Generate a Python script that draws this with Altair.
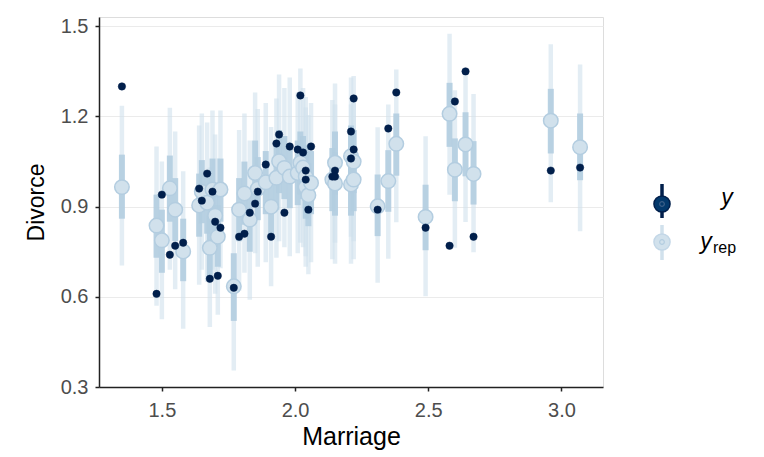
import altair as alt
import pandas as pd

states = ["Maine","New Jersey","Rhode Island","Minnesota","Pennsylvania","Massachusetts",
          "Vermont","Michigan","New Hampshire","New York","Ohio","Florida","Connecticut",
          "Wisconsin","District of Columbia","Illinois","South Carolina","Maryland","Montana",
          "Missouri","Oregon","California","Mississippi","Tennessee","Nebraska","Indiana",
          "South Dakota","Alabama","Arizona","New Mexico","North Carolina","Virginia",
          "Louisiana","Washington","Iowa","Texas","Georgia","Kansas","Kentucky",
          "West Virginia","Delaware","Colorado","Oklahoma","Hawaii","Idaho","Alaska",
          "Arkansas","North Dakota","Utah","Wyoming"]

marriage = [1.35,1.48,1.50,1.53,1.55,1.58,1.64,1.65,1.67,1.68,1.69,1.70,1.71,1.72,1.77,1.79,
            1.81,1.83,1.85,1.86,1.89,1.91,1.93,1.94,1.96,1.98,2.01,2.02,2.03,2.04,2.04,2.05,
            2.06,2.14,2.15,2.15,2.21,2.21,2.22,2.22,2.31,2.35,2.38,2.49,2.58,2.60,2.64,2.67,
            2.96,3.07]

divorce = [1.30,0.61,0.94,0.74,0.77,0.78,0.96,0.92,1.01,0.66,0.95,0.85,0.67,0.83,0.63,0.80,
           0.81,0.88,0.91,0.95,1.04,0.80,1.11,1.14,0.88,1.10,1.09,1.27,1.08,1.02,0.99,0.89,
           1.10,1.00,1.02,1.00,1.15,1.06,1.26,1.09,0.89,1.16,1.28,0.83,0.77,1.25,1.35,0.80,
           1.02,1.03]

yrep_med = [0.965,0.837,0.788,0.961,0.890,0.751,0.904,0.950,0.913,0.763,0.957,0.870,0.800,
            0.957,0.635,0.890,0.944,0.857,1.012,0.960,0.981,0.900,0.996,1.051,1.029,1.000,
            1.012,1.046,1.030,1.000,0.965,0.938,0.979,0.990,1.046,0.977,1.068,0.974,1.050,
            0.990,0.901,0.985,1.109,0.866,1.209,1.023,1.107,1.009,1.186,1.098]

yrep_lo50 = [0.860,0.730,0.680,0.850,0.785,0.652,0.800,0.845,0.810,0.660,0.850,0.765,0.700,
             0.850,0.520,0.785,0.840,0.750,0.905,0.855,0.875,0.795,0.890,0.945,0.925,0.895,
             0.905,0.940,0.925,0.895,0.860,0.835,0.875,0.885,0.940,0.870,0.960,0.870,0.945,
             0.885,0.802,0.883,1.003,0.755,1.099,0.918,1.001,0.907,1.077,0.988]

yrep_hi50 = [1.073,0.940,0.890,1.070,0.995,0.860,1.010,1.055,1.020,0.870,1.060,0.975,0.905,
             1.060,0.745,0.995,1.050,0.960,1.120,1.065,1.085,1.005,1.100,1.155,1.135,1.105,
             1.120,1.150,1.135,1.105,1.070,1.045,1.085,1.095,1.150,1.080,1.170,1.080,1.155,
             1.095,1.007,1.088,1.210,0.973,1.312,1.127,1.214,1.118,1.292,1.210]

yrep_lo90 = [0.704,0.570,0.525,0.690,0.625,0.494,0.640,0.690,0.650,0.500,0.690,0.610,0.540,
             0.695,0.355,0.620,0.680,0.590,0.745,0.700,0.715,0.635,0.730,0.785,0.765,0.735,
             0.745,0.780,0.765,0.735,0.700,0.675,0.715,0.725,0.780,0.710,0.800,0.710,0.785,
             0.725,0.647,0.727,0.848,0.602,0.940,0.763,0.849,0.748,0.915,0.818]

yrep_hi90 = [1.236,1.100,1.050,1.229,1.150,1.018,1.170,1.210,1.180,1.030,1.220,1.140,1.060,
             1.220,0.900,1.155,1.210,1.120,1.280,1.225,1.245,1.165,1.260,1.340,1.295,1.330,
             1.280,1.360,1.295,1.265,1.230,1.205,1.245,1.255,1.310,1.240,1.330,1.240,1.335,
             1.255,1.164,1.240,1.356,1.134,1.475,1.287,1.356,1.275,1.440,1.373]

x_ticks = [1.5, 2.0, 2.5, 3.0]
y_ticks = [0.3, 0.6, 0.9, 1.2, 1.5]

df = pd.DataFrame({
    "state": states, "Marriage": marriage, "Divorce": divorce,
    "med": yrep_med, "lo50": yrep_lo50, "hi50": yrep_hi50,
    "lo90": yrep_lo90, "hi90": yrep_hi90,
})

FONT = "Liberation Sans"
W, H = 504, 370

xscale = alt.Scale(domain=[1.264, 3.156], nice=False, zero=False)
yscale = alt.Scale(domain=[0.3, 1.531], nice=False, zero=False)

xaxis = alt.Axis(values=x_ticks, format=".1f", title="Marriage", grid=False,
                 domainColor="#222222", domainWidth=1.5, tickColor="#222222", tickWidth=1.5,
                 tickSize=4, labelFontSize=20, labelColor="#4d4d4d", labelFont=FONT,
                 labelPadding=9, titleFont=FONT, titleFontSize=25, titleFontWeight="normal",
                 titleColor="#000000", titlePadding=4)
yaxis = alt.Axis(values=y_ticks, format=".1f", title="Divorce", grid=True,
                 gridColor="#ebebeb", gridWidth=1.2,
                 domainColor="#222222", domainWidth=1.5, tickColor="#222222", tickWidth=1.5,
                 tickSize=4, labelFontSize=20, labelColor="#4d4d4d", labelFont=FONT,
                 labelPadding=7, titleFont=FONT, titleFontSize=23, titleFontWeight="normal",
                 titleColor="#000000", titlePadding=12)

base = alt.Chart(df)

outer = base.mark_rule(strokeWidth=4.5, color="#d1e1ec", opacity=0.6).encode(
    x=alt.X("Marriage:Q", scale=xscale, axis=xaxis),
    y=alt.Y("lo90:Q", scale=yscale, axis=yaxis),
    y2="hi90:Q",
)
inner = base.mark_rule(strokeWidth=6, color="#b3cde0", opacity=0.9).encode(
    x=alt.X("Marriage:Q", scale=xscale),
    y=alt.Y("lo50:Q", scale=yscale),
    y2="hi50:Q",
)
yrep_pts = base.mark_point(filled=True, shape="circle", size=210, fill="#d1e1ec",
                           stroke="#b3cde0", strokeWidth=1.5, opacity=1).encode(
    x=alt.X("Marriage:Q", scale=xscale),
    y=alt.Y("med:Q", scale=yscale),
)
y_pts = base.mark_point(filled=True, shape="circle", size=55, fill="#011f4b",
                        stroke="#011f4b", strokeWidth=0.5, opacity=1).encode(
    x=alt.X("Marriage:Q", scale=xscale),
    y=alt.Y("Divorce:Q", scale=yscale),
)

# legend (drawn outside the plot area, right side)
leg = alt.Chart(pd.DataFrame({"k": [0]}))
LX = 563
leg_layers = [
    leg.mark_rule(color="#011f4b", strokeWidth=3.5).encode(
        x=alt.value(LX), y=alt.value(167), y2=alt.value(201)),
    leg.mark_point(filled=True, shape="circle", size=260, fill="#03396c",
                   stroke="#011f4b", strokeWidth=1.5, opacity=1).encode(
        x=alt.value(LX), y=alt.value(187)),
    leg.mark_point(filled=False, shape="circle", size=22, stroke="#3b5f88",
                   strokeWidth=1.2, opacity=1).encode(
        x=alt.value(LX), y=alt.value(187)),
    leg.mark_rule(color="#d1e1ec", strokeWidth=3.5).encode(
        x=alt.value(LX), y=alt.value(208), y2=alt.value(243)),
    leg.mark_point(filled=True, shape="circle", size=260, fill="#d1e1ec",
                   stroke="#c3d7e7", strokeWidth=1.5, opacity=1).encode(
        x=alt.value(LX), y=alt.value(225)),
    leg.mark_point(filled=False, shape="circle", size=22, stroke="#b3cde0",
                   strokeWidth=1.2, opacity=1).encode(
        x=alt.value(LX), y=alt.value(225)),
    leg.mark_text(font=FONT, fontSize=23, fontStyle="italic", align="center",
                  baseline="alphabetic", color="#000000").encode(
        x=alt.value(628), y=alt.value(188), text=alt.value("y")),
    leg.mark_text(font=FONT, fontSize=23, fontStyle="italic", align="center",
                  baseline="alphabetic", color="#000000").encode(
        x=alt.value(607), y=alt.value(232), text=alt.value("y")),
    leg.mark_text(font=FONT, fontSize=16, align="left",
                  baseline="alphabetic", color="#000000").encode(
        x=alt.value(614), y=alt.value(236), text=alt.value("rep")),
]

chart = alt.layer(outer, inner, yrep_pts, y_pts, *leg_layers).properties(
    width=W, height=H,
    autosize=alt.AutoSizeParams(type="none"),
    padding={"left": 99, "top": 17, "right": 764 - 99 - W, "bottom": 457 - 17 - H},
).configure_view(stroke=None).configure(background="white")

chart.save("out.html", embed_options={"renderer": "svg", "actions": False})
